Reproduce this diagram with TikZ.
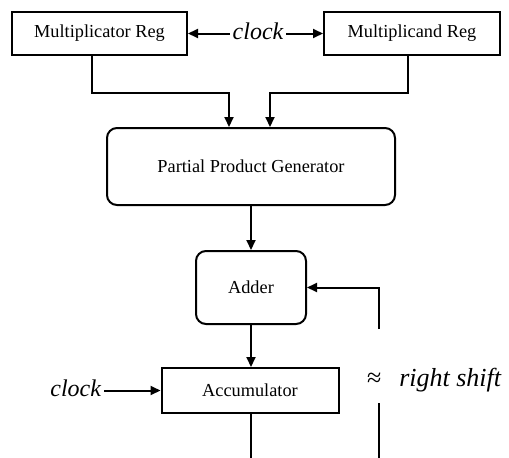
\documentclass[tikz,border=0pt]{standalone}
\usepackage{fontspec}
\setmainfont{Liberation Serif}
\usetikzlibrary{arrows.meta}
\begin{document}
\begin{tikzpicture}[x=1pt,y=-1pt,
  line width=2pt,
  unit/.style={draw, line width=2pt, minimum height=#1, inner sep=0pt,
    font=\fontsize{18.3}{20}\selectfont},
  unit/.default=43pt,
  roundunit/.style={unit=#1, rounded corners=10pt},
  sig/.style={font=\fontsize{24}{27}\selectfont\itshape, inner sep=2pt},
  arr/.style={-{Triangle[length=10pt,width=9pt]}}]
\useasboundingbox (0,0) rectangle (509,458);

% registers and clock
\node[unit, minimum width=175pt] (mreg) at (99.5,33.5) {Multiplicator Reg};
\node[unit, minimum width=176pt] (mdreg) at (412,33.5) {Multiplicand Reg};
\node[sig] (clk) at (258,31) {clock};
\draw[arr] (clk.west |- mreg.east) -- (mreg.east);
\draw[arr] (clk.east |- mdreg.west) -- (mdreg.west);

% datapath
\node[roundunit=77pt, minimum width=288pt] (ppg) at (251,166.5) {Partial Product Generator};
\node[roundunit=73pt, minimum width=110pt] (adder) at (251,287.5) {Adder};
\node[unit=45pt, minimum width=177pt] (acc) at (250,390.5) {Accumulator};
\node[sig, anchor=east] (clk2) at (104,388) {clock};

\draw[arr] ([xshift=-7.5pt]mreg.south) |- ([xshift=-22pt,yshift=34pt]ppg.north) -- ([xshift=-22pt]ppg.north);
\draw[arr] ([xshift=-4pt]mdreg.south) |- ([xshift=19pt,yshift=34pt]ppg.north) -- ([xshift=19pt]ppg.north);
\draw[arr] (ppg.south) -- (adder.north);
\draw[arr] (adder.south) -- ([xshift=1pt]acc.north);
\draw[arr] (clk2.east |- acc.west) -- (acc.west);

% output and shifted feedback
\coordinate (out) at (251,458);
\draw ([xshift=1pt]acc.south) -- (out);
\coordinate (fbin) at (379,458);
\coordinate (fbgap) at (379,403);
\coordinate (fbres) at (379,329);
\draw (fbin) -- (fbgap);
\draw[arr] (fbres) |- (adder.east);
\node[anchor=west, inner sep=0pt, font=\fontsize{26}{29}\selectfont] (shift) at (366,380)
  {≈\hspace{18pt}\textit{right shift}};
\end{tikzpicture}
\end{document}
